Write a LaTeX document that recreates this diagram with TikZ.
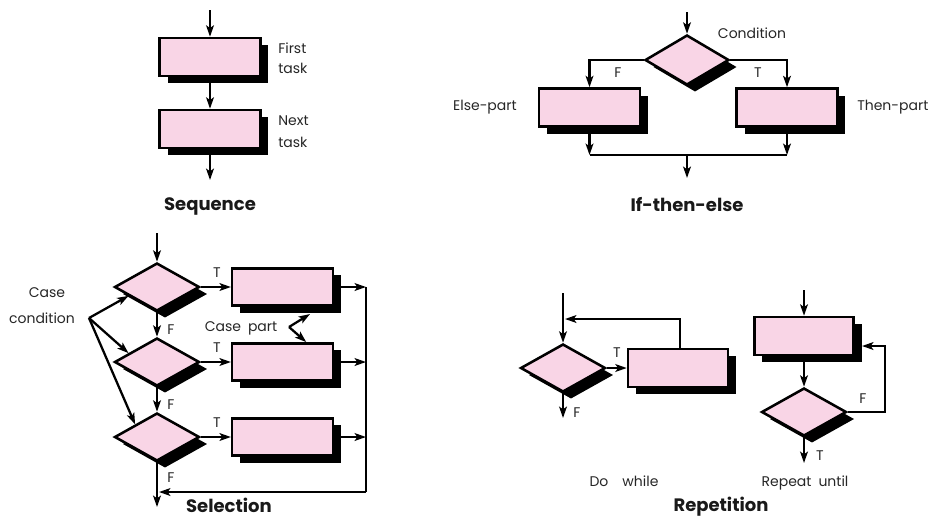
\documentclass[tikz,border=0pt]{standalone}
\usepackage{fontspec}
\setmainfont{Poppins}
\usetikzlibrary{arrows.meta,shapes.geometric,shadows,calc}
\definecolor{pinkc}{HTML}{F9D5E6}
\begin{document}
\begin{tikzpicture}[x=0.75pt,y=-0.75pt,
 shd/.style={drop shadow={shadow xshift=6pt,shadow yshift=-5.25pt,fill=black,opacity=1,shadow scale=1}},
 box/.style={rectangle,draw,line width=1.9pt,fill=pinkc,inner sep=0pt,minimum width=75.5pt,minimum height=28.5pt,shd},
 dia/.style={diamond,draw,line width=1.9pt,fill=pinkc,inner sep=0pt,minimum width=63.75pt,minimum height=36pt,shd},
 flow/.style={line width=1.7pt,-{Stealth[length=8.5pt,width=5.8pt,inset=2pt]}},
 ln/.style={line width=1.7pt},
 lbl/.style={font=\fontsize{10.5}{13}\selectfont,inner sep=0pt,text=black!85},
 ttl/.style={font=\bfseries\fontsize{13.5}{16}\selectfont,inner sep=0pt,text=black!90}]
\useasboundingbox (0,0) rectangle (937,519);

% ---------------- Sequence
\coordinate (s0) at (210,10);
\coordinate (s3) at (210,180);
\node[box] (s1) at (210,57) {};
\node[box] (s2) at (210,129) {};
\draw[flow] (s0) -- (s1.north);
\draw[flow] (s1.south) -- (s2.north);
\draw[flow] (s2.south) -- (s3);
\node[lbl,anchor=base west] (sf1) at (278,53) {First};
\node[lbl,anchor=base west] (sf2) at (278,73) {task};
\node[lbl,anchor=base west] (sn1) at (278,125) {Next};
\node[lbl,anchor=base west] (sn2) at (278,147) {task};
\node[ttl,anchor=base] (tseq) at (210,210) {Sequence};

% ---------------- If-then-else
\coordinate (i0) at (687,12);
\coordinate (j) at (687,155);
\coordinate (i9) at (687,178);
\node[dia,minimum width=63pt,minimum height=37.5pt] (c) at (687,60) {};
\node[box] (eb) at (589.5,107.5) {};
\node[box] (tb) at (787,107.5) {};
\draw[flow] (i0) -- (c.north);
\draw[flow] (c.west) -| (eb.north);
\draw[flow] (c.east) -| (tb.north);
\draw[flow] (eb.south) -- (eb.south |- j);
\draw[flow] (tb.south) -- (tb.south |- j);
\draw[ln] (eb.south |- j) -- (tb.south |- j);
\draw[flow] (j) -- (i9);
\node[lbl] (lcond) at (752,33) {Condition};
\node[lbl] (lf) at (618,73) {F};
\node[lbl] (lt) at (758,73) {T};
\node[lbl,anchor=east] (lelse) at (517,107) {Else-part};
\node[lbl,anchor=west] (lthen) at (857,107) {Then-part};
\node[ttl,anchor=base] (tif) at (687,211) {If-then-else};

% ---------------- Selection
\coordinate (x0) at (157,233);
\coordinate (x9) at (157,507);
\node[dia] (d1) at (157,287) {};
\node[dia] (d2) at (157,362) {};
\node[dia] (d3) at (157,437) {};
\node[box,minimum height=28pt] (b1) at (282.5,287) {};
\node[box,minimum height=28pt] (b2) at (282.5,362) {};
\node[box,minimum height=28pt] (b3) at (282.5,437) {};
\coordinate (v1) at (366,287);
\coordinate (v4) at (366,492);
\coordinate (m) at (159,492);
\draw[flow] (x0) -- (d1.north);
\draw[flow] (d1.south) -- (d2.north);
\draw[flow] (d2.south) -- (d3.north);
\draw[flow] (d3.south) -- (x9);
\draw[flow] (d1.east) -- (b1.west);
\draw[flow] (d2.east) -- (b2.west);
\draw[flow] (d3.east) -- (b3.west);
\draw[flow] (b1.east) -- (b1.east -| v1);
\draw[flow] (b2.east) -- (b2.east -| v1);
\draw[flow] (b3.east) -- (b3.east -| v1);
\draw[ln] (v1) -- (v4);
\draw[flow] (v4) -- (m);
\coordinate (cc) at (89,318);
\draw[flow] (cc) -- ($(d1.west)!0.35!(d1.south)$);
\draw[flow] (cc) -- ($(d2.west)!0.35!(d2.north)$);
\draw[flow] (cc) -- (d3.north west);
\node[lbl,anchor=base] (lcase1) at (47,297) {Case};
\node[lbl,anchor=base] (lcase2) at (42,323) {condition};
\node[lbl,anchor=base] (lcp) at (241,331) {Case\enspace part};
\coordinate (cp) at (289,327);
\coordinate (cpa) at (310,314);
\draw[flow] (cp) -- (cpa);
\draw[flow] (cp) -- ($(b2.north west)!0.73!(b2.north east)$);
\node[lbl] (st1) at (217,273) {T};
\node[lbl] (st2) at (217,348) {T};
\node[lbl] (st3) at (217,423) {T};
\node[lbl] (sf1b) at (171,330) {F};
\node[lbl] (sf2b) at (171,405) {F};
\node[lbl] (sf3b) at (171,478) {F};
\node[ttl,anchor=base] (tsel) at (229,512) {Selection};

% ---------------- Repetition: do while
\coordinate (w0) at (563,293);
\coordinate (w9) at (563,418);
\coordinate (wl) at (565,319);
\node[dia] (wd) at (563,368) {};
\node[box,minimum width=75pt] (wb) at (678,368) {};
\draw[flow] (w0) -- (wd.north);
\draw[flow] (wd.east) -- (wb.west);
\draw[flow] ([xshift=1.5pt]wb.north) |- (wl);
\draw[flow] (wd.south) -- (w9);
\node[lbl] (wt) at (617,353) {T};
\node[lbl] (wf) at (577,413) {F};
\node[lbl,anchor=base] (ldo) at (624,486) {Do\quad while};

% ---------------- Repetition: repeat until
\coordinate (r0) at (804,290);
\coordinate (r9) at (804,463);
\coordinate (rc) at (885,346);
\coordinate (rt) at (862,346);
\node[box,minimum width=74.5pt] (rb) at (804,336) {};
\node[dia] (rd) at (804,412) {};
\draw[flow] (r0) -- (rb.north);
\draw[flow] (rb.south) -- (rd.north);
\draw[flow] (rd.east) -| (rc) -- (rt);
\draw[flow] (rd.south) -- (r9);
\node[lbl] (rf) at (863,399) {F};
\node[lbl] (rtl) at (820,456) {T};
\node[lbl,anchor=base] (lrep) at (805,486) {Repeat\enspace until};
\node[ttl,anchor=base] (trep) at (721,511) {Repetition};
\end{tikzpicture}
\end{document}
